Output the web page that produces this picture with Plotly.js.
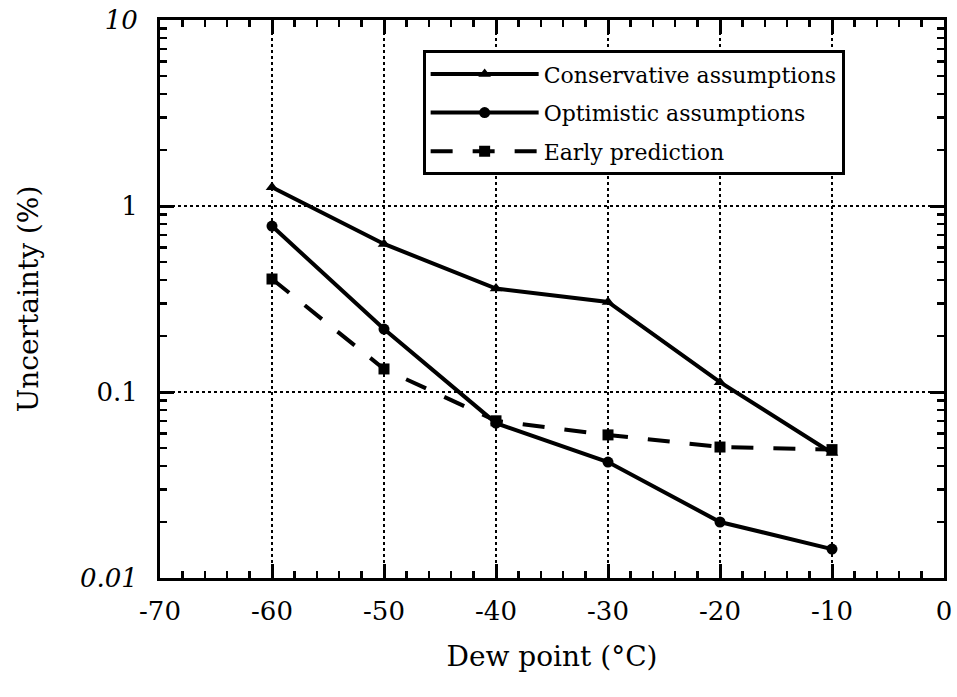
<!DOCTYPE html>
<html>
<head>
<meta charset="utf-8">
<script src="https://cdn.plot.ly/plotly-3.0.1.min.js"></script>
<style>html,body{margin:0;padding:0;background:#fff}#chart{width:957px;height:697px}</style>
</head>
<body>
<div id="chart"></div>
<script>
const dewPoint = [-60, -50, -40, -30, -20, -10];
const conservative = [1.26, 0.625, 0.36, 0.305, 0.113, 0.047];
const optimistic = [0.78, 0.218, 0.068, 0.042, 0.020, 0.0143];
const early = [0.405, 0.133, 0.070, 0.0588, 0.0506, 0.049];
const seriesNames = ['Conservative assumptions', 'Optimistic assumptions', 'Early prediction'];
const xTickVals = [-70, -60, -50, -40, -30, -20, -10, 0];
const xTickText = ['-70', '-60', '-50', '-40', '-30', '-20', '-10', '0'];
const yTickVals = [0.01, 0.1, 1, 10];
const yTickText = ['<i>0.01</i>', '0.1', '1', '<i>10</i>'];

const font = 'DejaVu Serif, Liberation Serif, serif';
const traces = [
  {x: dewPoint, y: conservative, name: seriesNames[0], legendgroup: 'g1', mode: 'lines+markers',
   line: {color: '#000', width: 4}, marker: {symbol: 'triangle-up', size: 11, color: '#000'}},
  {x: dewPoint, y: optimistic, name: seriesNames[1], legendgroup: 'g2', mode: 'lines+markers',
   line: {color: '#000', width: 4}, marker: {symbol: 'circle', size: 11, color: '#000'}},
  {x: dewPoint, y: early, name: seriesNames[2], legendgroup: 'g3', mode: 'lines+markers',
   line: {color: '#000', width: 4, dash: '22px,20px'}, marker: {symbol: 'square', size: 11, color: '#000'}}
];

const layout = {
  width: 957, height: 697,
  margin: {l: 160, r: 13, t: 20, b: 119},
  paper_bgcolor: '#fff', plot_bgcolor: '#fff',
  font: {family: font, color: '#000', size: 26},
  showlegend: true,
  legend: {x: 0.335, y: 0.946, xanchor: 'left', yanchor: 'top',
    bordercolor: '#000', borderwidth: 3, bgcolor: '#fff',
    font: {family: font, size: 22, color: '#000'},
    itemwidth: 108, tracegroupgap: 7},
  xaxis: {
    range: [-70, 0], tickvals: xTickVals, ticktext: xTickText, ticks: 'inside', ticklen: 14, tickwidth: 3,
    tickcolor: '#000', mirror: 'ticks', showline: true, linewidth: 3, linecolor: '#000',
    showgrid: true, gridcolor: '#000', griddash: 'dot', gridwidth: 1.5,
    zeroline: false, tickfont: {size: 26}, ticklabelstandoff: 8, automargin: false,
    minor: {dtick: 2, ticks: 'inside', ticklen: 7, tickwidth: 2.5, tickcolor: '#000', showgrid: false},
    title: {text: 'Dew point (°C)', font: {size: 28}, standoff: 22}
  },
  yaxis: {
    type: 'log', range: [-2, 1], tickvals: yTickVals, ticktext: yTickText,
    ticks: 'inside', ticklen: 14, tickwidth: 3, tickcolor: '#000', mirror: 'ticks',
    showline: true, linewidth: 3, linecolor: '#000',
    showgrid: true, gridcolor: '#000', griddash: 'dot', gridwidth: 1.5,
    zeroline: false, tickfont: {size: 26}, ticklabelstandoff: 14, automargin: false,
    minor: {dtick: 'D1', ticks: 'inside', ticklen: 7, tickwidth: 2.5, tickcolor: '#000', showgrid: false},
    title: {text: 'Uncertainty (%)', font: {size: 28}, standoff: 34}
  }
};

Plotly.newPlot('chart', traces, layout, {displayModeBar: false, staticPlot: true});
</script>
</body>
</html>
